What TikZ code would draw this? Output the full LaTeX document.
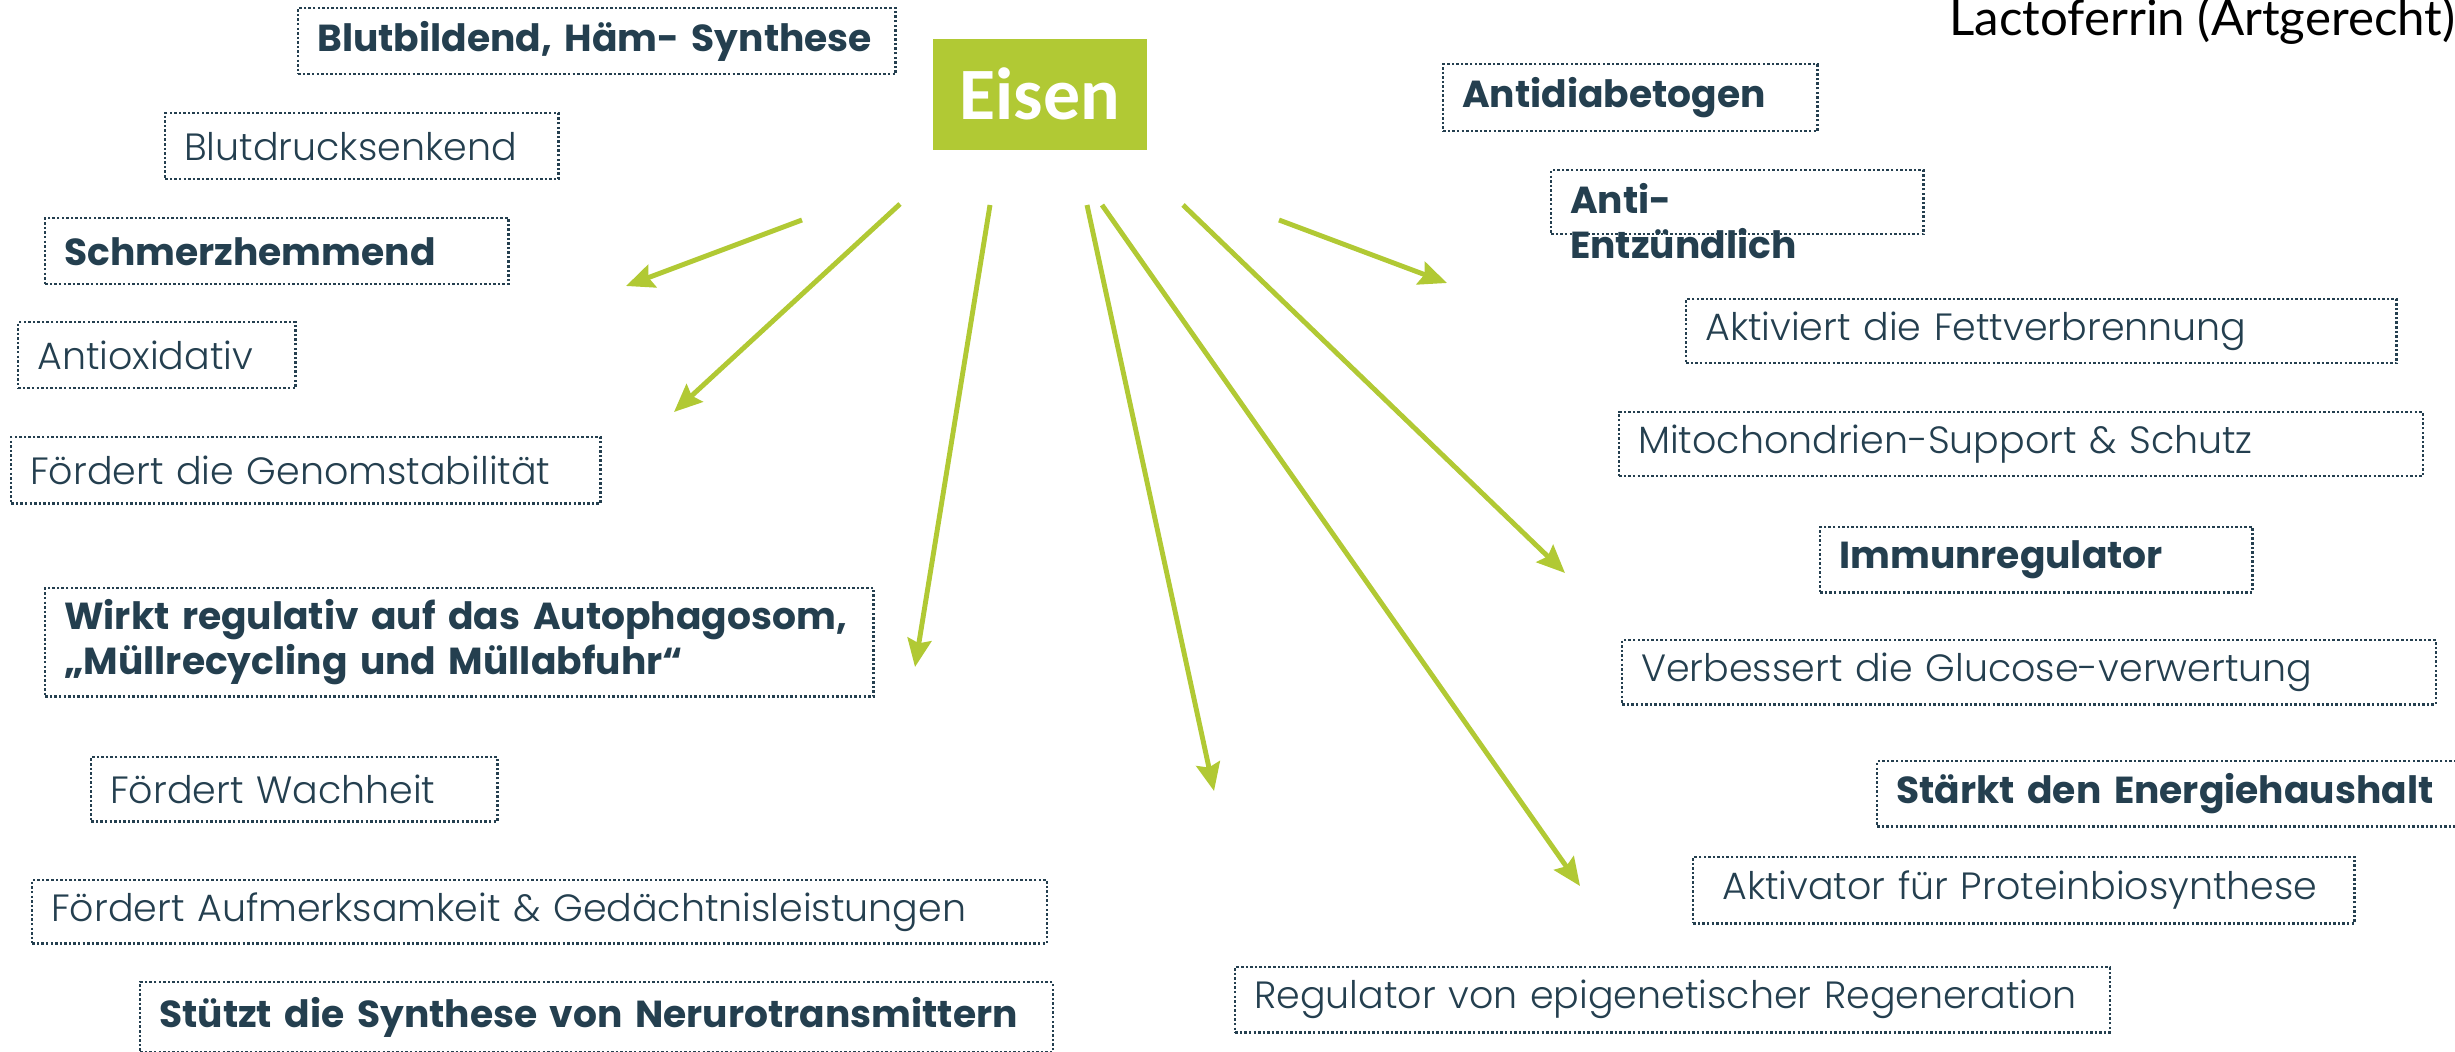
\documentclass[tikz,border=0pt]{standalone}
\usepackage{fontspec}
\setmainfont{Poppins}[UprightFont={* Light},BoldFont={* Bold}]
\newfontfamily\calfont{Carlito}
\newfontfamily\latofont{Lato}
\usepackage{tikz}
\usetikzlibrary{arrows.meta,positioning,calc}
\definecolor{ink}{HTML}{243F4F}
\definecolor{leaf}{HTML}{B1C934}

\begin{document}
\begin{tikzpicture}[x=0.01cm,y=-0.01cm,>={Stealth[length=0.28cm,width=0.24cm,inset=0.04cm]},
  box/.style={draw=ink,text=ink,line width=0.7pt,dash pattern=on 0.7pt off 0.6pt,anchor=north west,align=left,inner xsep=0.19cm,inner ysep=0pt,minimum height=0.65cm,font=\fontsize{10.8}{13}\selectfont},
  boldbox/.style={box,font=\fontsize{10.7}{12.8}\selectfont\bfseries},
  ray/.style={->,leaf,line width=1.4pt}]
\useasboundingbox (0,0) rectangle (2455,1052);

\node[fill=leaf,text=white,minimum width=2.14cm,minimum height=1.11cm,anchor=north west,inner sep=0pt,font=\calfont\bfseries\fontsize{21}{25}\selectfont] (eisen) at (932,38) {Eisen};
\node[anchor=base east,inner sep=0pt,font=\latofont\fontsize{14}{16}\selectfont] (title) at (2456,36) {Lactoferrin (Artgerecht)};

% left column
\node[boldbox,text width=5.59cm,minimum height=0.66cm] (blut) at (297,7) {Blutbildend, Häm- Synthese};
\node[box,text width=3.55cm,minimum height=0.66cm] (druck) at (164,112) {Blutdrucksenkend};
\node[boldbox,text width=4.25cm,minimum height=0.66cm] (schmerz) at (44,217) {Schmerzhemmend};
\node[box,text width=2.39cm,minimum height=0.66cm] (antiox) at (17,321) {Antioxidativ};
\node[box,text width=5.51cm,minimum height=0.66cm] (genom) at (10,436) {Fördert die Genomstabilität};
\node[boldbox,text width=7.90cm,minimum height=1.08cm] (wirkt) at (44,587) {Wirkt regulativ auf das Autophagosom,\\„Müllrecycling und Müllabfuhr“};
\node[box,text width=3.68cm,minimum height=0.64cm] (wach) at (90,756) {Fördert Wachheit};
\node[box,text width=9.76cm,minimum height=0.63cm] (aufm) at (31,879) {Fördert Aufmerksamkeit \& Gedächtnisleistungen};
\node[boldbox,text width=8.74cm,minimum height=0.70cm] (stuetzt) at (139,981) {Stützt die Synthese von Nerurotransmittern};

% right column
\node[boldbox,text width=3.36cm,minimum height=0.67cm] (diab) at (1442,63) {Antidiabetogen};
\node[boldbox,text width=3.34cm,minimum height=0.64cm,text depth=0.08cm] (entz) at (1550,169) {Anti-\\Entzündlich};
\node[box,text width=6.72cm,minimum height=0.64cm] (fett) at (1685,298) {Aktiviert die Fettverbrennung};
\node[box,text width=7.65cm,minimum height=0.64cm] (mito) at (1618,411) {Mitochondrien-Support \& Schutz};
\node[boldbox,text width=3.94cm,minimum height=0.65cm] (immun) at (1819,526) {Immunregulator};
\node[box,text width=7.75cm,minimum height=0.64cm] (gluc) at (1621,639) {Verbessert die Glucose-verwertung};
\node[boldbox,text width=5.82cm,minimum height=0.65cm] (energie) at (1876,760) {Stärkt den Energiehaushalt};
\node[box,text width=6.23cm,minimum height=0.66cm] (prot) at (1692,856) {\hspace*{0.1cm}Aktivator für Proteinbiosynthese};
\node[box,text width=8.36cm,minimum height=0.65cm] (epi) at (1234,966) {Regulator von epigenetischer Regeneration};

% rays out of the iron box
\coordinate (s1) at (802,220); \coordinate (t1) at (626,286);
\coordinate (s2) at (900,204); \coordinate (t2) at (674,412);
\coordinate (s3) at (990,205); \coordinate (t3) at (915,667);
\coordinate (s4) at (1087,205); \coordinate (t4) at (1214,791);
\coordinate (s5) at (1102,205); \coordinate (t5) at (1580,886);
\coordinate (s6) at (1183,205); \coordinate (t6) at (1565,573);
\coordinate (s7) at (1279,220); \coordinate (t7) at (1447,283);
\foreach \i in {1,...,7}
  \draw[ray] (s\i) -- (t\i);
\end{tikzpicture}
\end{document}
